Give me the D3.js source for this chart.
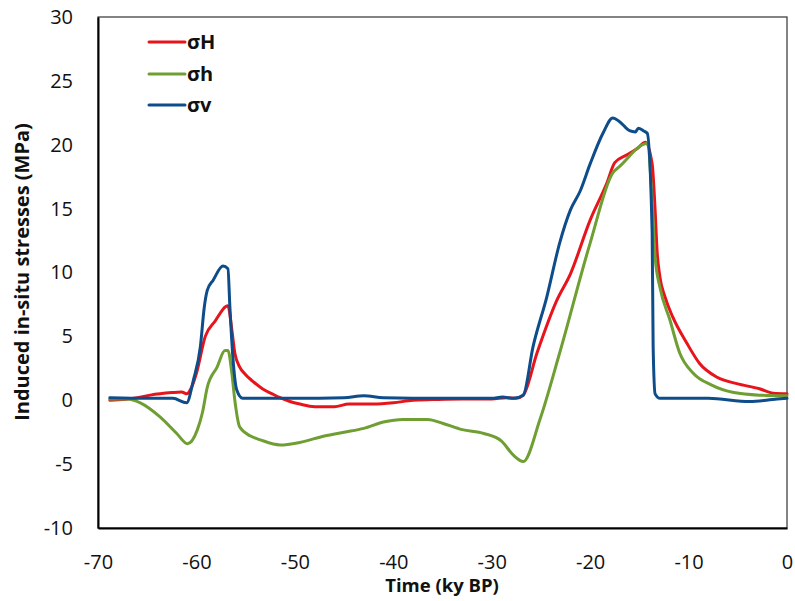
<!DOCTYPE html>
<html><head><meta charset="utf-8">
<script src="https://cdn.jsdelivr.net/npm/d3@7"></script>
<style>body{margin:0;background:#fff}</style>
</head><body>
<svg id="chart" width="795" height="601"></svg>
<script>
const seriesNames = ["σH", "σh", "σv"];
const seriesColors = ["#e8141c", "#6f9e33", "#0e4c8a"];
const xTicks = [-70, -60, -50, -40, -30, -20, -10, 0];
const yTicks = [-10, -5, 0, 5, 10, 15, 20, 25, 30];

const sigmaH = [
  [-68.8,0.0],[-66,0.2],[-64.7,0.4],[-62.5,0.6],[-61.5,0.65],[-61,0.5],[-60.5,1.0],[-60,2.1],[-59.1,5.0],
  [-58.1,6.2],[-56.8,7.4],[-56.4,5.5],[-56.1,3.7],[-55.6,2.6],[-55,2.0],[-54.3,1.5],[-53.3,0.9],
  [-52.3,0.5],[-51.5,0.2],[-50.5,-0.1],[-49.5,-0.3],[-48,-0.5],[-46,-0.5],[-44.5,-0.3],[-42,-0.3],
  [-40,-0.2],[-38,0.0],[-36,0.05],[-33,0.1],[-30,0.1],[-28.5,0.2],[-27.5,0.15],[-26.8,0.4],[-25.4,3.7],
  [-23.4,7.8],[-22,9.9],[-20,14.1],[-18.3,17.0],[-17.5,18.6],[-16.3,19.2],[-15.2,19.7],[-14.4,20.2],
  [-13.7,18.5],[-13.4,14.9],[-13.2,11.7],[-12.9,9.6],[-12.4,8.1],[-11.6,6.5],[-10.2,4.5],[-8.9,2.9],
  [-7.1,1.8],[-5.1,1.3],[-2.8,0.9],[-1.4,0.55],[0,0.5]
];
const sigmah = [
  [-68.8,0.1],[-67,0.1],[-65.7,-0.2],[-63.7,-1.3],[-62,-2.6],[-60.9,-3.4],[-59.9,-2.3],[-59.4,-1.0],
  [-58.9,1.0],[-57.9,2.6],[-57.1,3.9],[-56.8,3.9],[-56.4,2.1],[-56.1,0.0],[-55.6,-2.1],[-54.5,-2.8],
  [-53.5,-3.1],[-51.5,-3.5],[-49.5,-3.3],[-47,-2.8],[-45,-2.5],[-43,-2.2],[-41,-1.7],[-39,-1.5],
  [-36.5,-1.5],[-35,-1.8],[-33,-2.3],[-30.8,-2.6],[-29,-3.2],[-27.8,-4.3],[-26.8,-4.8],[-25.1,-1.5],
  [-23.1,3.7],[-20,12.3],[-17.7,17.8],[-17,18.3],[-14.2,20.1],[-13.7,15.6],[-13.4,11.2],[-12.9,8.8],
  [-11.9,6.3],[-10.9,3.7],[-9.5,2.1],[-7.7,1.2],[-5.4,0.6],[-2.8,0.4],[0,0.35]
];
const sigmav = [
  [-68.8,0.2],[-65,0.15],[-62.4,0.15],[-61,-0.2],[-60.3,1.6],[-59.6,4.2],[-59.2,7.3],[-58.9,8.6],
  [-58.3,9.4],[-57.3,10.5],[-56.8,10.3],[-56.6,7.3],[-56.3,3.4],[-55.9,0.8],[-55.3,0.15],[-50,0.15],
  [-45,0.2],[-43,0.35],[-41,0.2],[-35,0.15],[-30,0.15],[-28.9,0.25],[-27.8,0.15],[-26.8,0.4],[-25.8,4.2],
  [-24.4,8.1],[-23.1,12.3],[-22,14.9],[-21,16.4],[-20,18.5],[-18.7,20.9],[-17.7,22.1],[-17,21.8],
  [-16,21.1],[-15.4,21.0],[-15.1,21.3],[-14.6,21.1],[-14.2,20.9],[-13.7,13.1],[-13.6,4.2],[-13.4,0.5],
  [-12.9,0.15],[-8,0.15],[-3.8,-0.1],[-1,0.1],[0,0.15]
];
const allSeries = [sigmaH, sigmah, sigmav];

const svg = d3.select("#chart");
const L = 98, R = 787, T = 17, B = 528;
const x = d3.scaleLinear().domain([-70, 0]).range([L, R]);
const y = d3.scaleLinear().domain([-10, 30]).range([B, T]);
const font = "Open Sans, Liberation Sans, sans-serif";

svg.append("rect").attr("x", L).attr("y", T).attr("width", R - L).attr("height", B - T)
  .attr("fill", "none").attr("stroke", "#333").attr("stroke-width", 1.2);

const line = d3.line().x(d => x(d[0])).y(d => y(d[1])).curve(d3.curveMonotoneX);
allSeries.forEach((s, i) => {
  svg.append("path").datum(s).attr("d", line).attr("fill", "none")
    .attr("stroke", seriesColors[i]).attr("stroke-width", 3).attr("stroke-linejoin", "round").attr("stroke-linecap", "round");
});

const fmt = d => String(d);
const xAxis = svg.append("g").attr("transform", `translate(0,${B})`)
  .call(d3.axisBottom(x).tickValues(xTicks).tickSize(0).tickPadding(27).tickFormat(fmt));
xAxis.select(".domain").attr("stroke", "#000").attr("stroke-width", 2);
xAxis.selectAll("text").attr("font-family", font).attr("font-size", 20).attr("fill", "#111");

const yAxis = svg.append("g").attr("transform", `translate(${L},0)`)
  .call(d3.axisLeft(y).tickValues(yTicks).tickSize(0).tickPadding(25).tickFormat(fmt));
yAxis.select(".domain").attr("stroke", "#000").attr("stroke-width", 2);
yAxis.selectAll("text").attr("font-family", font).attr("font-size", 20).attr("fill", "#111");

svg.append("text").attr("x", 442).attr("y", 592).attr("text-anchor", "middle")
  .attr("font-family", font).attr("font-weight", "bold").attr("font-size", 18.5).attr("fill", "#111")
  .text("Time (ky BP)");
svg.append("text").attr("transform", `translate(29,272) rotate(-90)`).attr("text-anchor", "middle")
  .attr("font-family", font).attr("font-weight", "bold").attr("font-size", 20).attr("fill", "#111")
  .text("Induced in-situ stresses (MPa)");

const legendY = [42, 74, 105];
seriesNames.forEach((n, i) => {
  svg.append("line").attr("x1", 149).attr("x2", 185).attr("y1", legendY[i]).attr("y2", legendY[i])
    .attr("stroke", seriesColors[i]).attr("stroke-width", 3).attr("stroke-linecap", "round");
  svg.append("text").attr("x", 187).attr("y", legendY[i] + 7).attr("font-family", font)
    .attr("font-weight", "bold").attr("font-size", 20).attr("fill", "#111").text(n);
});
</script>
</body></html>
